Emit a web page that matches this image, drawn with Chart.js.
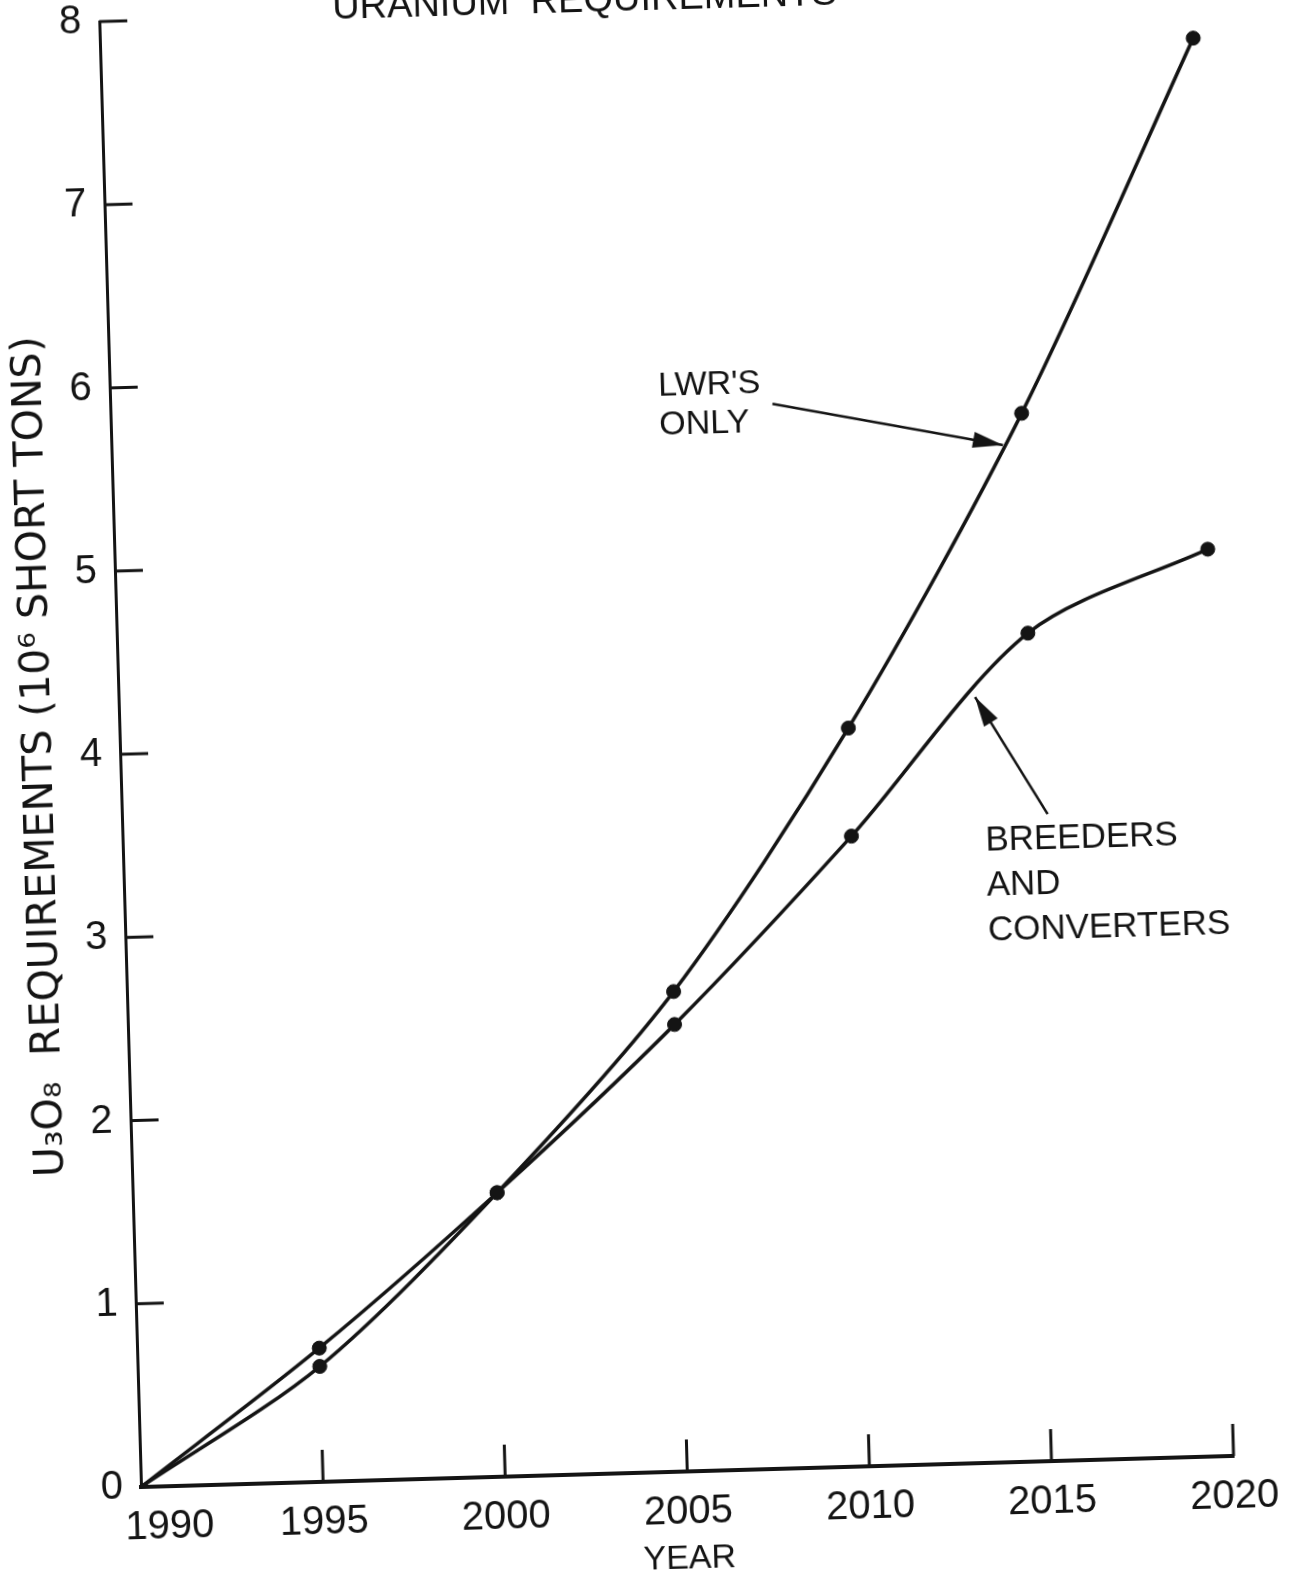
<!DOCTYPE html>
<html>
<head>
<meta charset="utf-8" />
<script src="https://cdn.jsdelivr.net/npm/chart.js@4.4.1/dist/chart.umd.min.js"></script>
<style>
  html,body{margin:0;padding:0;background:#fff;overflow:hidden;width:1302px;height:1578px;}
  /* the scan is tilted a little; turn the whole sheet about the origin */
  #sheet{position:absolute;left:0;top:0;width:1302px;height:1640px;transform:rotate(-1.63deg);transform-origin:141px 1487px;}
</style>
</head>
<body>
<div id="sheet"><canvas id="chart" width="1302" height="1640"></canvas></div>
<script>
/* ---------- Data (10^6 short tons U3O8) ---------- */
const years = [1990, 1995, 2000, 2005, 2010, 2015, 2020];
const lwrOnly = [0, 0.63, 1.55, 2.62, 4.03, 5.72, 7.74];
const breedersConverters = [0, 0.73, 1.55, 2.44, 3.44, 4.52, 4.95];
const xTicks = [1990, 1995, 2000, 2005, 2010, 2015, 2020];
const yTicks = [0, 1, 2, 3, 4, 5, 6, 7, 8];

/* ---------- Look ---------- */
const INK = '#141414';
const FONT = "'Liberation Sans', Arial, sans-serif";

// annotations, anchored in data units (year, value)
const notes = [
  { lines: ["LWR'S", 'ONLY'], at: [2005.05, 5.87], step: 39, size: 34 },
  { lines: ['BREEDERS', 'AND', 'CONVERTERS'], at: [2013.67, 3.34], step: 45, size: 35 }
];
const arrows = [
  { from: [2008.17, 5.81], to: [2014.46, 5.55] },
  { from: [2015.40, 3.53], to: [2013.50, 4.18] }
];
const heading = { text: 'URANIUM  REQUIREMENTS', at: [1996.4, 7.98], size: 38 };

function drawArrow(ctx, x1, y1, x2, y2){
  const ang = Math.atan2(y2 - y1, x2 - x1), head = 30, half = 8;
  ctx.beginPath(); ctx.moveTo(x1, y1); ctx.lineTo(x2, y2); ctx.stroke();
  const bx = x2 - head * Math.cos(ang), by = y2 - head * Math.sin(ang);
  ctx.beginPath();
  ctx.moveTo(x2, y2);
  ctx.lineTo(bx + half * Math.sin(ang), by - half * Math.cos(ang));
  ctx.lineTo(bx - half * Math.sin(ang), by + half * Math.cos(ang));
  ctx.closePath(); ctx.fill();
}

const paperMarks = {
  id: 'paperMarks',
  afterDraw(chart){
    const {ctx, scales: {x, y}, chartArea: a} = chart;
    ctx.save();
    ctx.strokeStyle = INK; ctx.fillStyle = INK; ctx.lineCap = 'butt';

    // inward tick marks
    ctx.lineWidth = 3;
    xTicks.slice(1).forEach(v => {
      const px = x.getPixelForValue(v);
      ctx.beginPath(); ctx.moveTo(px, a.bottom); ctx.lineTo(px, a.bottom - 32); ctx.stroke();
    });
    yTicks.slice(1).forEach(v => {
      const py = y.getPixelForValue(v);
      ctx.beginPath(); ctx.moveTo(a.left, py); ctx.lineTo(a.left + 28, py); ctx.stroke();
    });

    // notes
    ctx.textAlign = 'left'; ctx.textBaseline = 'alphabetic';
    notes.forEach(n => {
      ctx.font = n.size + 'px ' + FONT;
      const px = x.getPixelForValue(n.at[0]), py = y.getPixelForValue(n.at[1]);
      n.lines.forEach((t, i) => ctx.fillText(t, px, py + i * n.step));
    });

    ctx.lineWidth = 2.5;
    arrows.forEach(r => drawArrow(ctx,
      x.getPixelForValue(r.from[0]), y.getPixelForValue(r.from[1]),
      x.getPixelForValue(r.to[0]), y.getPixelForValue(r.to[1])));

    // heading, mostly cut off by the top of the page
    ctx.font = heading.size + 'px ' + FONT;
    ctx.fillText(heading.text, x.getPixelForValue(heading.at[0]), y.getPixelForValue(heading.at[1]));
    ctx.restore();
  }
};

const lineStyle = {
  borderColor: INK, borderWidth: 3.5, fill: false, tension: 0.3,
  pointRadius: c => c.dataIndex === 0 ? 0 : 7,
  pointBackgroundColor: INK, pointBorderColor: INK, pointBorderWidth: 1
};

new Chart(document.getElementById('chart'), {
  type: 'line',
  data: {
    datasets: [
      { label: "LWR's only", data: years.map((yr, i) => ({x: yr, y: lwrOnly[i]})), ...lineStyle },
      { label: 'Breeders and converters', data: years.map((yr, i) => ({x: yr, y: breedersConverters[i]})), ...lineStyle }
    ]
  },
  options: {
    responsive: false,
    animation: false,
    devicePixelRatio: 1,
    clip: false,
    layout: { padding: { top: 21, right: 68, left: 0, bottom: 0 } },
    plugins: { legend: { display: false }, tooltip: { enabled: false }, title: { display: false } },
    scales: {
      x: {
        type: 'linear', min: 1990, max: 2020,
        afterFit(s){ s.height = 153; s.paddingLeft = 0; s.paddingRight = 0; },
        afterBuildTicks(s){ s.ticks = xTicks.map(v => ({value: v})); },
        grid: { display: false, drawTicks: false },
        border: { display: true, color: INK, width: 4 },
        ticks: { color: INK, font: { family: FONT, size: 40 }, padding: 17, maxRotation: 0, autoSkip: false,
                 // first label sits clear of the "0"
                 callback: v => v === 1990 ? '     1990' : String(v) },
        title: { display: true, text: 'YEAR', color: INK, font: { family: FONT, size: 34 }, padding: { top: 0, bottom: 45 } }
      },
      y: {
        type: 'linear', min: 0, max: 8,
        afterFit(s){ s.width = 141; s.paddingTop = 0; s.paddingBottom = 0; },
        afterBuildTicks(s){ s.ticks = yTicks.map(v => ({value: v})); },
        grid: { display: false, drawTicks: false },
        border: { display: true, color: INK, width: 3 },
        ticks: { color: INK, font: { family: FONT, size: 40 }, padding: 18, autoSkip: false },
        title: { display: true, text: 'U₃O₈  REQUIREMENTS (10⁶ SHORT TONS)', color: INK,
                 font: { family: "'DejaVu Sans', sans-serif", size: 41 }, padding: { top: 37, bottom: 0 } }
      }
    }
  },
  plugins: [paperMarks]
});
</script>
</body>
</html>
